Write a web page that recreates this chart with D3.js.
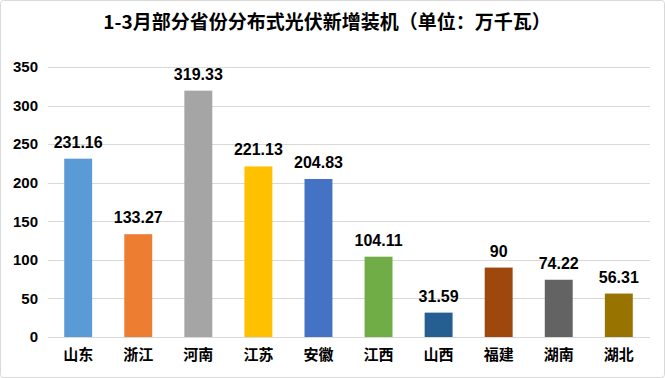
<!DOCTYPE html>
<html><head><meta charset="utf-8">
<script src="https://cdn.jsdelivr.net/npm/d3@7/dist/d3.min.js"></script>
<style>body{margin:0;background:#fff}svg{display:block}</style>
</head><body>
<svg id="c" width="665" height="378"></svg>
<script>
const title = "1-3月部分省份分布式光伏新增装机（单位：万千瓦）";
const categories = ["山东","浙江","河南","江苏","安徽","江西","山西","福建","湖南","湖北"];
const values = [231.16,133.27,319.33,221.13,204.83,104.11,31.59,90,74.22,56.31];
const labels = ["231.16","133.27","319.33","221.13","204.83","104.11","31.59","90","74.22","56.31"];
const colors = ["#5B9BD5","#ED7D31","#A5A5A5","#FFC000","#4472C4","#70AD47","#255E91","#9E480E","#636363","#997300"];
const yTicks = [0,50,100,150,200,250,300,350];

const svg = d3.select("#c");
svg.append("rect").attr("x",0.5).attr("y",0.5).attr("width",664).attr("height",377)
  .attr("rx",3).attr("fill","#fff").attr("stroke","#d9d9d9");

const m = {left:48, right:16, top:67, bottom:41};
const W = 665, H = 378;
const x = d3.scaleBand().domain(categories).range([m.left, W - m.right]).paddingInner(0.535).paddingOuter(0.27);
const y = d3.scaleLinear().domain([0,350]).range([H - m.bottom, m.top]);

svg.append("text").attr("x",327).attr("y",29).attr("text-anchor","middle")
  .attr("font-family","'Noto Sans CJK SC', sans-serif").attr("font-weight","bold")
  .attr("font-size",19).attr("fill","#000").text(title);

// gridlines
svg.append("g").selectAll("line").data(yTicks).join("line")
  .attr("x1",m.left).attr("x2",W - m.right + 1)
  .attr("y1",d=>Math.round(y(d))+0.5).attr("y2",d=>Math.round(y(d))+0.5)
  .attr("stroke","#d9d9d9").attr("stroke-width",1);

// y axis labels
const ya = svg.append("g").attr("transform",`translate(${m.left},0)`)
  .call(d3.axisLeft(y).tickValues(yTicks).tickSize(0).tickPadding(10));
ya.select(".domain").remove();
ya.selectAll("text").attr("font-family","'Liberation Sans', Arial, sans-serif")
  .attr("font-weight","bold").attr("font-size",15).attr("fill","#000");

// bars
svg.append("g").selectAll("rect").data(categories).join("rect")
  .attr("x",d=>x(d)).attr("width",x.bandwidth())
  .attr("y",(d,i)=>y(values[i])).attr("height",(d,i)=>y(0)-y(values[i]))
  .attr("fill",(d,i)=>colors[i]);

// value labels
svg.append("g").selectAll("text").data(categories).join("text")
  .attr("x",d=>x(d)+x.bandwidth()/2).attr("y",(d,i)=>y(values[i])-11)
  .attr("text-anchor","middle").attr("font-family","'Liberation Sans', Arial, sans-serif")
  .attr("font-weight","bold").attr("font-size",16).attr("fill","#000")
  .text((d,i)=>labels[i]);

// x axis
const xa = svg.append("g").attr("transform",`translate(0,${y(0)})`)
  .call(d3.axisBottom(x).tickSize(0).tickPadding(12));
xa.select(".domain").attr("stroke","#d9d9d9").attr("d",`M${m.left},0.5H${W-m.right+1}`);
xa.selectAll("text").attr("font-family","'Noto Sans CJK SC', sans-serif")
  .attr("font-weight","bold").attr("font-size",15).attr("fill","#000");
</script>
</body></html>
